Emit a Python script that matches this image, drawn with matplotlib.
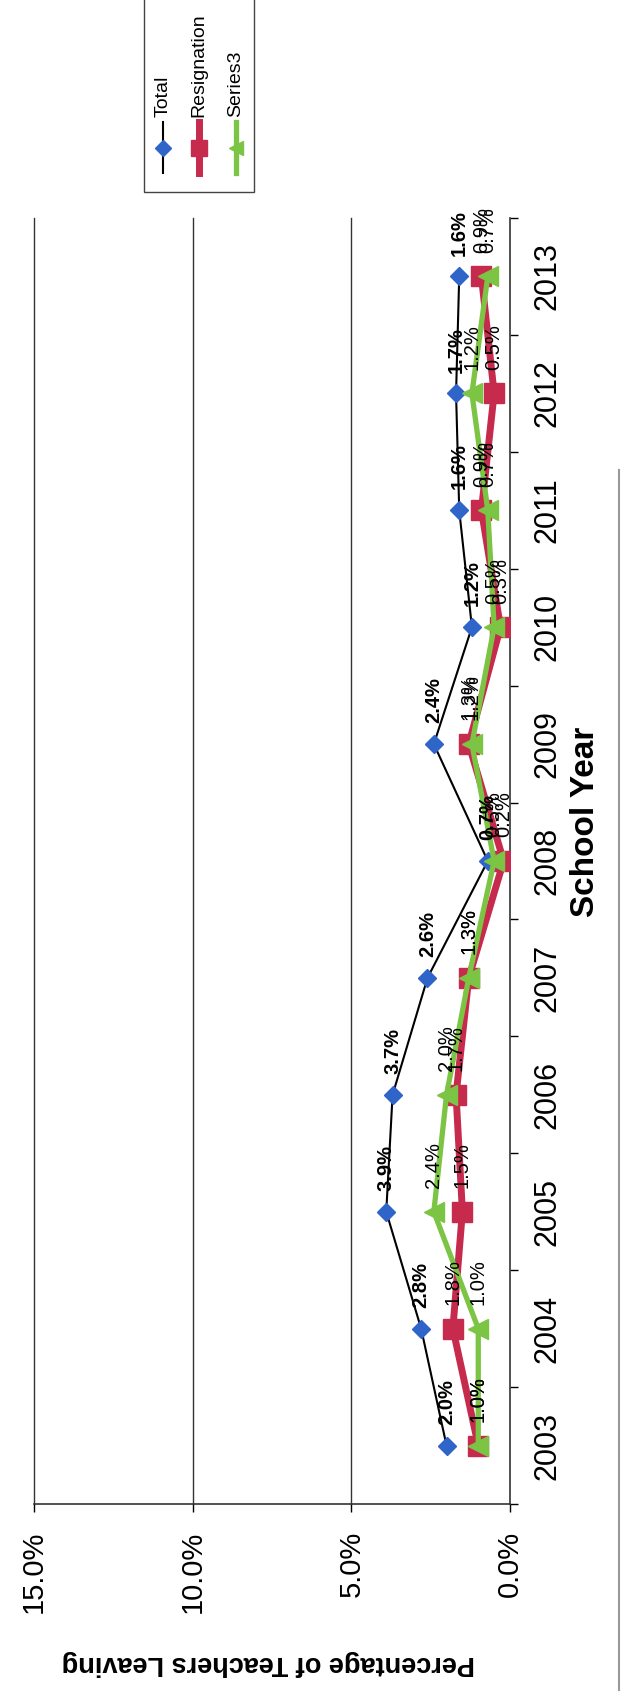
import matplotlib
matplotlib.use("Agg")
import matplotlib.pyplot as plt
from matplotlib.lines import Line2D
from matplotlib.patches import Rectangle

plt.rcParams['font.family'] = ['Liberation Sans', 'DejaVu Sans']

# data (percent of teachers leaving)
years = ['2003', '2004', '2005', '2006', '2007', '2008',
         '2009', '2010', '2011', '2012', '2013']
total = [2.0, 2.8, 3.9, 3.7, 2.6, 0.7, 2.4, 1.2, 1.6, 1.7, 1.6]
resignation = [1.0, 1.8, 1.5, 1.7, 1.3, 0.2, 1.3, 0.3, 0.9, 0.5, 0.9]
series3 = [1.0, 1.0, 2.4, 2.0, 1.3, 0.5, 1.2, 0.5, 0.7, 1.2, 0.7]
pct_ticks = [0, 5, 10, 15]

BLUE = '#2F64C8'
RED = '#C62A4C'
GREEN = '#7CC443'

W, H = 621, 1691
fig = plt.figure(figsize=(W / 100, H / 100), dpi=100)


def fx(px):
    return px / W


def fy(py):
    return 1 - py / H


# whole chart is turned on its side: values run right->left, years bottom->top
left, right, top, bottom = 34, 510, 218, 1504
ax = fig.add_axes([fx(left), fy(bottom), fx(right - left), (bottom - top) / H])

pos = list(range(len(years)))
ax.plot(total, pos, color='black', lw=1.5, marker='D', ms=9,
        mfc=BLUE, mec=BLUE, zorder=3)
ax.plot(resignation, pos, color=RED, lw=5, marker='s', ms=14,
        mfc=RED, mec=RED, zorder=4)
ax.plot(series3, pos, color=GREEN, lw=3.8, marker='<', ms=14,
        mfc=GREEN, mec=GREEN, zorder=5)

for v, p in zip(total, pos):
    ax.annotate(f"{v:.1f}%", (v, p), xytext=(0, 15), textcoords='offset points',
                rotation=90, ha='center', va='bottom', fontsize=14.5,
                fontweight='bold', zorder=6)
for vals in (resignation, series3):
    for v, p in zip(vals, pos):
        ax.annotate(f"{v:.1f}%", (v, p), xytext=(0, 17), textcoords='offset points',
                    rotation=90, ha='center', va='bottom', fontsize=14.5, zorder=6)

ax.set_xlim(15, 0)
ax.set_ylim(-0.5, len(years) - 0.5)

ax.set_xticks(pct_ticks)
ax.set_xticklabels([f"{t:.1f}%" for t in pct_ticks], rotation=90,
                   fontsize=21, va='top', ha='center')
ax.tick_params(axis='x', direction='out', length=6, width=1, pad=13)

ax.yaxis.tick_right()
ax.set_yticks(pos)
ax.set_yticklabels(years, rotation=90, fontsize=22, va='center', ha='left')
ax.set_yticks([p - 0.5 for p in pos] + [len(years) - 0.5], minor=True)
ax.tick_params(axis='y', which='major', length=0, pad=16)
ax.tick_params(axis='y', which='minor', direction='out', length=6, width=1)

for t in (5, 10, 15):
    ax.axvline(t, color='#333333', lw=1, zorder=1, clip_on=False)

for s in ('left', 'top'):
    ax.spines[s].set_visible(False)
for s in ('right', 'bottom'):
    ax.spines[s].set_color('#333333')
    ax.spines[s].set_linewidth(1.2)

# axis titles
fig.text(fx(585), fy(822), 'School Year', rotation=90, ha='center', va='center',
         fontsize=24, fontweight='bold')
fig.text(fx(268), fy(1663), 'Percentage of Teachers Leaving', rotation=180,
         ha='center', va='center', fontsize=19.5, fontweight='bold')

# legend, drawn by hand so it can stand on its side
fig.add_artist(Rectangle((fx(144), fy(192)), fx(254 - 144), (192 + 10) / H,
                         transform=fig.transFigure, fill=False,
                         edgecolor='#444444', lw=1))
entries = [('Total', 'black', 1.5, 'D', 8, BLUE, 163),
           ('Resignation', RED, 5, 's', 12, RED, 199),
           ('Series3', GREEN, 3.8, '<', 10, GREEN, 236)]
for name, lc, lw, mk, ms, mc, x in entries:
    fig.add_artist(Line2D([fx(x), fx(x)], [fy(173), fy(122)],
                          transform=fig.transFigure, color=lc, lw=lw))
    fig.add_artist(Line2D([fx(x)], [fy(148)], transform=fig.transFigure,
                          marker=mk, ms=ms, mfc=mc, mec=mc, ls='none'))
    fig.text(fx(x), fy(117), name, rotation=90, ha='center', va='bottom',
             fontsize=14)

# page edge from the scan
fig.add_artist(Line2D([fx(619), fx(619)], [fy(470), 0],
                      transform=fig.transFigure, color='#999999', lw=1.5))

fig.savefig('out.png', dpi=100)
